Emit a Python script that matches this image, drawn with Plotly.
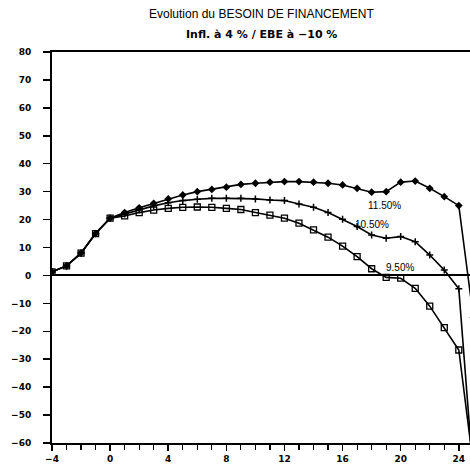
import plotly.graph_objects as go

x_years = list(range(-4, 26))

besoin_1150 = [1.3, 3.4, 8.0, 15.0, 20.5, 22.5, 24.2, 25.8, 27.4, 28.8, 30.0, 30.8, 31.6, 32.6,
               33.0, 33.4, 33.6, 33.6, 33.4, 33.0, 32.4, 31.2, 29.8, 30.0, 33.4, 33.8, 31.2, 28.2,
               25.0, -15.0]
besoin_1050 = [1.3, 3.4, 8.0, 15.0, 20.5, 22.0, 23.5, 24.9, 26.0, 26.8, 27.3, 27.6, 27.6, 27.6,
               27.4, 27.0, 26.8, 25.6, 24.4, 22.5, 20.1, 17.5, 14.5, 13.3, 13.9, 12.1, 7.3, 1.9,
               -4.8, -72.0]
besoin_0950 = [1.3, 3.4, 8.0, 15.0, 20.5, 21.3, 22.5, 23.4, 24.0, 24.4, 24.5, 24.4, 24.0, 23.6,
               22.5, 21.6, 20.5, 18.7, 16.3, 13.7, 10.5, 6.7, 2.4, -0.7, -1.0, -4.6, -11.0, -18.7,
               -26.7, -68.0]

x_tickvals = [-4, 0, 4, 8, 12, 16, 20, 24]
y_tickvals = [-60, -50, -40, -30, -20, -10, 0, 10, 20, 30, 40, 50, 60, 70, 80]

title_text = "Evolution du BESOIN DE FINANCEMENT"
subtitle_text = "Infl. à 4 % / EBE à −10 %"
curve_labels = ["11.50%", "10.50%", "9.50%"]
label_x = [18.9, 18.0, 19.95]
label_y = [24.9, 18.1, 3.0]

fig = go.Figure()
fig.add_trace(go.Scatter(x=x_years, y=besoin_1150, mode="lines+markers",
                         line=dict(color="black", width=1.6),
                         marker=dict(symbol="diamond", size=6, color="black"),
                         name="11.50%"))
fig.add_trace(go.Scatter(x=x_years, y=besoin_1050, mode="lines+markers",
                         line=dict(color="black", width=1.6),
                         marker=dict(symbol="cross-thin", size=5, color="black",
                                     line=dict(color="black", width=1.5)),
                         name="10.50%"))
fig.add_trace(go.Scatter(x=x_years, y=besoin_0950, mode="lines+markers",
                         line=dict(color="black", width=1.6),
                         marker=dict(symbol="square-open", size=6, color="black",
                                     line=dict(color="black", width=1.3)),
                         name="9.50%"))

for t, lx, ly in zip(curve_labels, label_x, label_y):
    fig.add_annotation(x=lx, y=ly, text=t, showarrow=False,
                       font=dict(family="Liberation Sans", size=10, color="black"))

fig.add_annotation(xref="paper", yref="paper", x=0.502, y=1.097, yanchor="middle",
                   text=title_text, showarrow=False,
                   font=dict(family="Liberation Sans", size=12, color="black"))
fig.add_annotation(xref="paper", yref="paper", x=0.502, y=1.046, yanchor="middle",
                   text=subtitle_text, showarrow=False,
                   font=dict(family="DejaVu Sans", size=11, weight="bold", color="black"))

fig.update_layout(
    width=470, height=472,
    margin=dict(l=52, r=0, t=52, b=29, autoexpand=False),
    plot_bgcolor="white", paper_bgcolor="white",
    showlegend=False,
    font=dict(family="DejaVu Sans", color="black"),
)
fig.update_xaxes(
    range=[-4, 24.77], tickvals=x_tickvals, showgrid=False, zeroline=False,
    automargin=False,
    showline=True, linecolor="black", linewidth=2, mirror=True,
    ticks="outside", ticklen=6, tickwidth=1.5, tickcolor="black",
    minor=dict(dtick=1, tick0=-4, ticks="outside", ticklen=5, tickwidth=1.2, tickcolor="black"),
    tickfont=dict(family="DejaVu Sans", size=9, weight="bold", color="black"),
)
fig.update_yaxes(
    range=[-60, 80], tickvals=y_tickvals, showgrid=False,
    automargin=False,
    zeroline=True, zerolinecolor="black", zerolinewidth=2,
    showline=True, linecolor="black", linewidth=2,
    ticks="outside", ticklen=7, tickwidth=1.5, tickcolor="black",
    ticklabelstandoff=10,
    tickfont=dict(family="DejaVu Sans", size=9, weight="bold", color="black"),
)

# remove the page's default body margin so the 470x472 figure fills the window exactly
page_fix = ("document.body.style.margin='0';"
            "document.body.style.overflow='hidden';"
            "document.documentElement.style.overflow='hidden';")

fig.write_html("out.html", post_script=page_fix,
               config={"displayModeBar": False, "staticPlot": True})
